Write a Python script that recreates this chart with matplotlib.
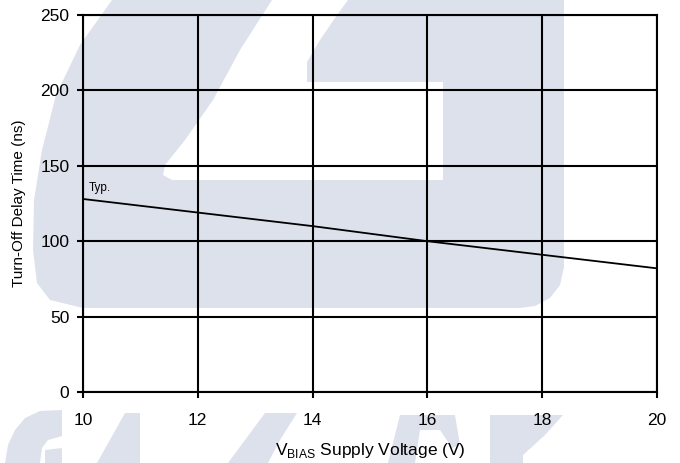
import matplotlib
matplotlib.use("Agg")
import matplotlib.pyplot as plt
from matplotlib.patches import Polygon

# Typical turn-off delay time versus bias supply voltage
vbias = [10, 12, 14, 16, 18, 20]
t_off_typ = [128, 119, 110, 100, 91, 82]
x_ticks = [10, 12, 14, 16, 18, 20]
y_ticks = [0, 50, 100, 150, 200, 250]

plt.rcParams["font.family"] = ["Liberation Sans", "DejaVu Sans"]
plt.rcParams["mathtext.fontset"] = "custom"
plt.rcParams["mathtext.rm"] = "Liberation Sans"

W, H = 680, 463
fig = plt.figure(figsize=(W / 100, H / 100), dpi=100)
fig.patch.set_facecolor("white")

# Background logo shapes, given in pixel coordinates (origin top-left)
WM = "#dde1ec"


def px(points):
    return [(x / W, 1 - y / H) for x, y in points]


def add_shape(points, color=WM):
    fig.patches.append(Polygon(px(points), closed=True, transform=fig.transFigure,
                               facecolor=color, edgecolor="none", zorder=0))


add_shape([(112, 0), (80, 45), (56, 95), (42, 150), (34, 200), (33, 250),
           (37, 283), (50, 300), (83, 308), (520, 308), (535, 306), (550, 298),
           (560, 285), (564, 267), (564, 0)])
add_shape([(272, 0), (240, 50), (213, 100), (185, 140), (165, 165), (163, 175),
           (172, 180), (443, 180), (443, 82), (307, 82), (307, 62), (320, 40),
           (335, 18), (348, 0)], color="white")
add_shape([(62, 410), (40, 411), (25, 418), (15, 430), (8, 445), (5, 463),
           (40, 463), (42, 448), (48, 440), (62, 436)])
add_shape([(45, 450), (62, 448), (62, 463), (45, 463)])
add_shape([(125, 413), (140, 413), (140, 463), (97, 463)])
add_shape([(265, 413), (297, 413), (280, 440), (268, 463), (228, 463)])
add_shape([(400, 415), (455, 415), (460, 445), (452, 448), (440, 430),
           (420, 430), (415, 463), (388, 463)])
add_shape([(490, 415), (563, 415), (545, 435), (523, 455), (523, 463), (490, 463)])

ax = fig.add_axes([83 / W, 1 - 392 / H, (657 - 83) / W, (392 - 15) / H])
ax.set_zorder(1)
ax.patch.set_alpha(0)

ax.plot(vbias, t_off_typ, color="black", linewidth=1.3, zorder=3)
ax.text(10.1, 131, "Typ.", fontsize=8.5, ha="left", va="bottom")

ax.set_xlim(10, 20)
ax.set_ylim(0, 250)
ax.set_xticks(x_ticks)
ax.set_yticks(y_ticks)
ax.grid(True, color="black", linewidth=1.5)
ax.set_axisbelow(False)
for s in ax.spines.values():
    s.set_color("black")
    s.set_linewidth(1.5)

ax.tick_params(axis="both", direction="out", length=4.3, width=1.5,
               labelsize=12.5, colors="black")
ax.tick_params(axis="x", pad=11)
ax.tick_params(axis="y", pad=5.5)

ax.set_xlabel(r"V$_{\mathregular{BIAS}}$ Supply Voltage (V)", fontsize=12.5)
ax.xaxis.label.set_va("center")
ax.xaxis.set_label_coords(0.5, (392 - 450) / (392 - 15))

ax.set_ylabel("Turn-Off Delay Time (ns)", fontsize=11)
ax.yaxis.label.set_va("center")
ax.yaxis.set_label_coords((19 - 83) / (657 - 83), 0.5)

fig.savefig("out.png", dpi=100, facecolor="white")
